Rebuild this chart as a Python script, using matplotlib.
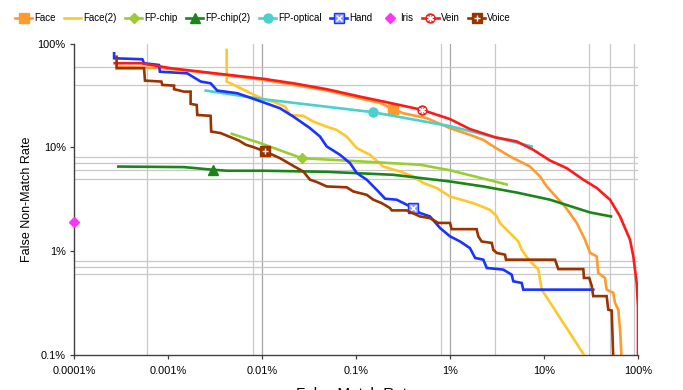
import matplotlib
matplotlib.use('Agg')
import matplotlib.pyplot as plt
from matplotlib.lines import Line2D
from matplotlib.legend_handler import HandlerTuple
from matplotlib.ticker import NullLocator

plt.rcParams['font.family'] = ['Liberation Sans', 'DejaVu Sans']

# DET curves, FMR and FNMR in percent
face_fmr = [0.000286, 0.000822, 0.00219, 0.0105, 0.0488, 0.110, 0.180, 0.245, 0.318, 0.565, 1.0, 1.63,
            2.26, 2.89, 4.35, 7.10, 9.06, 10.7, 13.4, 16.7, 22.3, 27.3, 30.9, 36.4, 37.8, 44.5, 46.4,
            54.6, 56.9, 61.7, 64.4, 67.1]
face_fnmr = [59.4, 58.1, 53.2, 44.6, 35.3, 29.6, 26.8, 23.4, 21.3, 19.1, 15.3, 13.2, 11.8, 10.2, 8.17,
             6.53, 5.24, 4.20, 3.35, 2.70, 1.87, 1.29, 0.962, 0.891, 0.616, 0.552, 0.426, 0.397, 0.318,
             0.273, 0.176, 0.09]

face2_fmr = [0.00421, 0.00421, 0.00645, 0.00822, 0.0105, 0.0132, 0.0176, 0.0199, 0.0275, 0.0352, 0.0488,
             0.0624, 0.0796, 0.102, 0.141, 0.195, 0.294, 0.407, 0.520, 0.723, 1.0, 1.77, 2.67, 3.14,
             3.40, 4.53, 5.33, 5.79, 7.10, 8.70, 9.46, 27.3]
face2_fnmr = [86.6, 43.0, 35.7, 32.0, 29.0, 27.5, 24.7, 20.5, 20.1, 17.7, 15.8, 14.7, 12.7, 9.82, 8.47,
              6.53, 5.85, 5.24, 4.53, 4.06, 3.36, 2.90, 2.50, 2.16, 1.87, 1.44, 1.24, 1.03, 0.798,
              0.664, 0.426, 0.097]

fpchip_fmr = [0.00477, 0.00953, 0.0264, 0.480, 1.0, 4.01]
fpchip_fnmr = [13.5, 11.0, 7.87, 6.80, 6.01, 4.39]

fpchip2_fmr = [0.000296, 0.00148, 0.00303, 0.00428, 0.0105, 0.0488, 0.249, 1.0, 2.26, 5.12, 11.6, 30.9, 51.6]
fpchip2_fnmr = [6.53, 6.45, 6.08, 5.95, 5.95, 5.81, 5.44, 4.69, 4.20, 3.67, 3.13, 2.36, 2.16]

optical_fmr = [0.00252, 0.0105, 0.151, 1.0, 7.40]
optical_fnmr = [35.2, 29.0, 21.8, 16.0, 10.2]

hand_fmr = [0.000267, 0.000267, 0.000534, 0.000555, 0.000802, 0.000820, 0.00160, 0.00223, 0.00284,
            0.00334, 0.00546, 0.0105, 0.0155, 0.0215, 0.0324, 0.0414, 0.0488, 0.0676, 0.0863, 0.102,
            0.130, 0.166, 0.204, 0.271, 0.346, 0.407, 0.480, 0.612, 0.784, 1.0, 1.28, 1.63, 1.85,
            2.26, 2.46, 3.69, 4.53, 4.71, 5.79, 6.02, 33.4]
hand_fnmr = [80.5, 72.1, 70.5, 64.6, 62.1, 53.5, 51.6, 43.0, 41.4, 35.2, 33.2, 27.0, 23.8, 19.8, 15.3,
             12.7, 10.2, 8.47, 7.05, 5.65, 4.88, 3.90, 3.20, 3.13, 2.80, 2.60, 2.33, 2.16, 1.67, 1.39,
             1.24, 1.07, 0.861, 0.828, 0.689, 0.664, 0.594, 0.513, 0.494, 0.426, 0.426]

iris_fmr = [0.0001]
iris_fnmr = [1.89]

vein_fmr = [0.000271, 0.000513, 0.00107, 0.00223, 0.0105, 0.0215, 0.0488, 0.110, 0.212, 0.500, 1.0,
            1.63, 3.01, 5.12, 7.69, 11.6, 17.4, 26.2, 36.4, 50.4, 64.4, 82.2, 89.2, 96.8, 99.9, 100]
vein_fnmr = [64.6, 64.6, 57.8, 53.5, 45.6, 41.4, 36.3, 30.8, 27.2, 23.0, 18.7, 15.0, 12.5, 11.4, 9.46,
             7.46, 6.31, 4.88, 4.06, 3.13, 2.16, 1.29, 0.89, 0.494, 0.294, 0.05]

voice_fmr = [0.000284, 0.000284, 0.000556, 0.000569, 0.000849, 0.000870, 0.00116, 0.00116, 0.00148,
             0.00174, 0.00174, 0.00202, 0.00205, 0.00284, 0.00288, 0.00364, 0.00465, 0.00569, 0.00671,
             0.00822, 0.0108, 0.0155, 0.0215, 0.0275, 0.0324, 0.0382, 0.0488, 0.0796, 0.0935, 0.130,
             0.153, 0.188, 0.230, 0.240, 0.346, 0.480, 0.612, 0.752, 1.0, 1.04, 1.92, 2.0, 2.17, 2.78,
             2.89, 3.14, 3.85, 3.94, 13.1, 13.6, 14.2, 26.2, 26.6, 30.3, 32.2, 33.4, 46.4, 48.3, 52.5, 54.6]
voice_fnmr = [74.6, 57.8, 57.8, 43.9, 43.0, 39.9, 39.3, 36.3, 34.4, 34.4, 26.2, 25.6, 20.5, 20.1, 14.2,
              13.7, 12.5, 11.6, 10.6, 10.0, 9.12, 7.87, 6.63, 5.85, 4.88, 4.64, 4.20, 4.12, 3.76, 3.49,
              3.13, 2.90, 2.60, 2.47, 2.47, 2.16, 2.08, 1.87, 1.87, 1.63, 1.63, 1.39, 1.24, 1.20, 1.03,
              0.962, 0.925, 0.828, 0.828, 0.750, 0.672, 0.672, 0.552, 0.552, 0.461, 0.369, 0.369, 0.273,
              0.268, 0.09]

x_ticks = [0.0001, 0.001, 0.01, 0.1, 1, 10, 100]
x_labels = ['0.0001%', '0.001%', '0.01%', '0.1%', '1%', '10%', '100%']
y_ticks = [0.1, 1, 10, 100]
y_labels = ['0.1%', '1%', '10%', '100%']
x_grid = [0.0006, 0.008, 0.01, 0.8, 1, 3, 30, 50, 90]
y_grid = [60, 40, 8, 7, 6, 5, 0.8, 0.7, 0.6]

fig = plt.figure(figsize=(6.83, 3.9), dpi=100)
ax = fig.add_axes([74/683, 1-355/390, 564/683, 311.5/390])
ax.set_xscale('log')
ax.set_yscale('log')
ax.set_xlim(0.0001, 100)
ax.set_ylim(0.1, 100)

for v in x_grid:
    ax.axvline(v, color='#a6a6a6' if v in (0.01, 1) else '#c8c8c8', lw=0.9, zorder=0)
for v in y_grid:
    ax.axhline(v, color='#c8c8c8', lw=0.9, zorder=0)

lw = 1.9
# (label, x, y, colour, marker, marker index, overlay marker)
series = [
    ('Face', face_fmr, face_fnmr, '#ff9a2e', 's', 7, None),
    ('Face(2)', face2_fmr, face2_fnmr, '#ffc72c', None, None, None),
    ('FP-chip', fpchip_fmr, fpchip_fnmr, '#9acd32', 'D', 2, None),
    ('FP-chip(2)', fpchip2_fmr, fpchip2_fnmr, '#1a861a', '^', 2, None),
    ('FP-optical', optical_fmr, optical_fnmr, '#4ccfcf', 'o', 2, None),
    ('Hand', hand_fmr, hand_fnmr, '#1a33ff', 's', 25, 'x'),
    ('Iris', iris_fmr, iris_fnmr, '#ff33ff', 'D', 0, None),
    ('Vein', vein_fmr, vein_fnmr, '#ff1a1a', 'o', 9, (6, 2, 0)),
    ('Voice', voice_fmr, voice_fnmr, '#993300', 's', 20, '+'),
]

handles = []
labels = []
for i, (name, xs, ys, c, m, mi, ov) in enumerate(series):
    z = 2 + i
    if name == 'Iris':
        ax.plot(xs, ys, ls='none', marker='D', ms=5, color=c, mec=c, clip_on=False, zorder=z)
        handles.append(Line2D([], [], ls='none', marker='D', ms=5, color=c))
        labels.append(name)
        continue
    ax.plot(xs, ys, color=c, lw=lw, zorder=z, solid_joinstyle='miter')
    h = Line2D([], [], color=c, lw=lw)
    if m is not None:
        fc = '#8a9cff' if name == 'Hand' else c
        ms = 5.5 if m == 'D' else 6.5
        ax.plot([xs[mi]], [ys[mi]], ls='none', marker=m, ms=ms, mfc=fc, mec=c, zorder=z + 0.5)
        h = Line2D([], [], color=c, lw=lw, marker=m, ms=ms, mfc=fc, mec=c)
        if ov is not None:
            ax.plot([xs[mi]], [ys[mi]], ls='none', marker=ov, ms=5, mec='white', mew=1.0,
                    zorder=z + 0.6)
            h = (h, Line2D([], [], ls='none', marker=ov, ms=5, mec='white', mew=1.0))
    handles.append(h)
    labels.append(name)

ax.set_xticks(x_ticks)
ax.set_xticklabels(x_labels)
ax.set_yticks(y_ticks)
ax.set_yticklabels(y_labels)
ax.xaxis.set_minor_locator(NullLocator())
ax.yaxis.set_minor_locator(NullLocator())
ax.tick_params(axis='both', direction='out', length=3, width=0.9, colors='#404040',
               labelcolor='black', labelsize=7.9)
ax.tick_params(axis='x', pad=5)
ax.tick_params(axis='y', pad=3)

for s in ['top', 'right']:
    ax.spines[s].set_visible(False)
for s in ['left', 'bottom']:
    ax.spines[s].set_color('#404040')
    ax.spines[s].set_linewidth(1.0)

ax.set_ylabel('False Non-Match Rate', fontsize=9, labelpad=3)
# the reference shows only the top of this label at the lower edge
ax.set_xlabel('False Match Rate', fontsize=11, labelpad=7.5)

fig.legend(handles, labels, ncol=9, loc='center left', bbox_to_anchor=(15/683, 1-18/390),
           frameon=False, handlelength=1.75, handletextpad=0.2, columnspacing=0.9,
           borderpad=0, borderaxespad=0, fontsize=7,
           handler_map={tuple: HandlerTuple(ndivide=1)})

fig.savefig('out.png', dpi=100)
